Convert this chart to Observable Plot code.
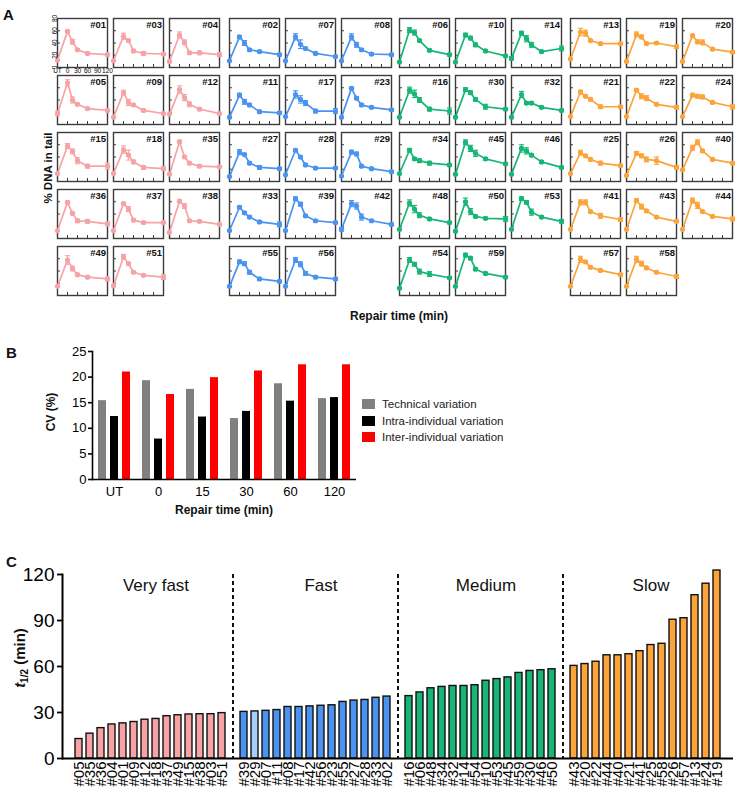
<!DOCTYPE html>
<html><head><meta charset="utf-8">
<script src="https://cdn.jsdelivr.net/npm/d3@7"></script>
<script src="https://cdn.jsdelivr.net/npm/@observablehq/plot@0.6"></script>
<style>
body{margin:0;background:#fff;font-family:"Liberation Sans",Arial,sans-serif;}
#fig{position:relative;width:739px;height:795px;overflow:hidden;background:#fff;}
.abs{position:absolute;}
</style></head><body><div id="fig"></div>
<script>
// ---------- Panel A data: % DNA in tail (mean) and error at each time point ----------
const timepoints = ["UT", 0, 15, 30, 60, 120];
const aTicksX = [0, 30, 60, 90];
const aTicksY = [20, 40, 60];

const aVeryFastIds = ["#01","#03","#04","#05","#09","#12","#15","#18","#35","#36","#37","#38","#49","#51"];
const aVeryFastDNA = [
  [12,59,42,29,23,21],[11,51,44,27,23,22],[10,53,41,24,24,21],
  [18,68,40,33,26,23],[12,52,36,32,23,18],[17,57,44,33,25,18],
  [13,58,49,34,25,25],[13,52,43,32,23,21],[12,65,40,30,25,24],
  [13,59,41,29,28,24],[13,57,48,30,26,26],[10,61,53,29,28,23],
  [15,58,44,34,30,27],[16,63,52,38,33,30]
];
const aVeryFastErr = [
  [0,2,4,2,2,2],[0,5,2,2,3,2],[0,5,4,2,3,3],
  [4,5,5,2,2,2],[0,4,5,2,2,2],[0,6,5,4,2,2],
  [0,4,4,5,3,5],[0,6,8,3,3,3],[0,2,2,2,2,2],
  [0,2,2,3,3,3],[0,2,4,2,2,2],[0,2,4,2,2,2],
  [0,7,4,2,2,3],[0,4,2,2,2,4]
];
const aFastIds = ["#02","#07","#08","#11","#17","#23","#27","#28","#29","#33","#39","#42","#55","#56"];
const aFastDNA = [
  [11,50,40,29,26,21],[11,50,38,31,23,18],[11,50,37,29,22,21],
  [12,48,37,32,21,19],[13,49,41,35,22,22],[12,59,43,32,28,24],
  [8,48,44,30,23,21],[11,51,40,27,22,22],[9,48,45,25,21,16],
  [13,51,42,35,27,23],[13,65,56,37,29,26],[15,57,53,35,29,23],
  [15,55,52,38,27,23],[15,58,51,36,30,27]
];
const aFastErr = [
  [0,2,4,2,2,2],[0,5,7,2,2,2],[0,5,4,2,2,2],
  [0,3,4,2,2,2],[0,6,6,4,3,4],[0,2,2,2,2,2],
  [0,4,2,2,3,2],[0,2,2,2,2,2],[0,3,3,2,2,2],
  [0,2,2,2,2,4],[0,3,3,2,2,2],[3,5,5,5,2,2],
  [0,3,3,3,2,2],[0,4,4,3,2,2]
];
const aMediumIds = ["#06","#10","#14","#16","#30","#32","#34","#45","#46","#48","#50","#53","#54","#59"];
const aMediumDNA = [
  [9,61,57,44,28,21],[9,53,48,37,27,19],[15,56,47,37,26,31],
  [12,56,50,40,25,22],[12,57,52,41,29,25],[12,49,35,35,28,23],
  [13,51,37,34,30,27],[12,64,54,46,37,29],[12,54,50,43,32,23],
  [15,58,48,38,32,26],[12,60,44,36,33,32],[15,65,59,43,35,28],
  [12,58,51,39,35,29],[15,66,61,43,36,30]
];
const aMediumErr = [
  [0,4,4,2,2,2],[0,3,3,3,2,2],[3,3,5,4,2,4],
  [0,5,6,4,3,5],[0,3,3,3,4,2],[0,5,2,2,2,2],
  [0,3,2,3,3,2],[0,4,5,5,2,2],[0,6,5,2,2,2],
  [0,5,6,4,2,2],[0,6,5,2,2,4],[0,3,3,5,2,3],
  [0,4,3,4,4,2],[0,3,2,2,2,2]
];
const aSlowIds = ["#13","#19","#20","#21","#22","#24","#25","#26","#40","#41","#43","#44","#57","#58"];
const aSlowDNA = [
  [14,58,56,44,39,39],[10,54,50,39,40,34],[10,52,42,41,30,25],
  [13,53,46,41,29,29],[13,56,46,43,33,28],[13,48,46,45,36,29],
  [13,47,42,36,30,26],[10,46,42,36,34,23],[19,55,64,50,36,30],
  [15,59,59,44,37,31],[15,62,52,45,35,28],[15,62,54,44,36,32],
  [15,59,55,46,41,34],[15,59,52,45,38,31]
];
const aSlowErr = [
  [0,6,5,2,2,2],[0,4,3,2,2,3],[0,2,3,4,2,2],
  [0,3,2,2,3,2],[0,2,4,4,2,3],[0,3,3,3,2,4],
  [0,4,2,2,3,2],[0,3,3,4,6,3],[0,4,4,2,2,2],
  [0,4,4,2,4,3],[0,3,4,2,2,2],[0,4,5,2,2,3],
  [0,5,2,2,2,2],[0,5,4,2,2,3]
];

// ---------- Panel B data: CV (%) ----------
const bTimes = ["UT", "0", "15", "30", "60", "120"];
const bSeries = ["Technical variation", "Intra-individual variation", "Inter-individual variation"];
const bTechnical = [15.4, 19.3, 17.6, 11.9, 18.7, 15.8];
const bIntra = [12.3, 7.9, 12.2, 13.3, 15.3, 16.0];
const bInter = [21.0, 16.6, 19.9, 21.2, 22.4, 22.4];
const bTicksY = [0, 5, 10, 15, 20, 25];

// ---------- Panel C data: t1/2 (min) ----------
const groupNames = ["Very fast", "Fast", "Medium", "Slow"];
const cVeryFastIds = ["#05","#35","#36","#04","#01","#09","#12","#18","#37","#49","#15","#38","#03","#51"];
const cVeryFastT = [12.7,16.2,19.8,22.2,22.9,23.8,25.3,25.8,27.6,28.2,28.7,28.9,28.9,29.6];
const cFastIds = ["#39","#29","#07","#11","#08","#17","#42","#56","#23","#55","#27","#28","#33","#02"];
const cFastT = [30.4,30.7,31.1,31.6,33.6,33.6,34.0,34.4,34.7,36.9,37.8,38.2,39.6,40.4];
const cMediumIds = ["#16","#06","#48","#34","#32","#14","#54","#10","#53","#45","#59","#30","#46","#50"];
const cMediumT = [40.7,43.1,45.8,46.7,47.3,47.3,47.8,50.7,51.8,52.9,55.8,57.1,57.6,58.2];
const cSlowIds = ["#43","#20","#22","#44","#40","#21","#41","#25","#58","#26","#57","#13","#24","#19"];
const cSlowT = [60.4,61.6,63.1,67.3,67.3,68.0,70.0,74.0,74.8,90.5,91.5,106.5,114.0,122.6];
const cHighlight = ["#29"];
const cTicksY = [0, 30, 60, 90, 120];

// ---------- styling ----------
const FONT = "Liberation Sans, Arial, Helvetica, sans-serif";
const groupColors = ["#f7a3a6", "#4a93f0", "#17b676", "#fca43c"];
const highlightColor = "#a9cdf9";
const bColors = ["#808080", "#000000", "#ff0000"];

const fig = document.getElementById("fig");
function place(node, left, top) {
  node.classList.add("abs");
  node.style.left = left + "px";
  node.style.top = top + "px";
  fig.appendChild(node);
}
const baseStyle = {background: "transparent", fontFamily: FONT, overflow: "visible", color: "#000"};
const capSymbol = {draw(ctx) { ctx.moveTo(-2.6, 0); ctx.lineTo(2.6, 0); }};

// ---------- Panel A ----------
const aGroups = [
  {ids: aVeryFastIds, vals: aVeryFastDNA, errs: aVeryFastErr},
  {ids: aFastIds, vals: aFastDNA, errs: aFastErr},
  {ids: aMediumIds, vals: aMediumDNA, errs: aMediumErr},
  {ids: aSlowIds, vals: aSlowDNA, errs: aSlowErr}
];
const groupLeft = [57, 229, 399, 570];
const colStep = 56, rowTop = 18, rowStep = 57.1;
const PW = 50, PH = 49, ML = 10, MR = 3, MT = 3, MB = 9;

function smallPanel(id, values, errs, color, showLabels) {
  const data = timepoints.map((t, i) => ({t: t === "UT" ? -30 : t, v: values[i], e: errs[i]}));
  const eData = data.filter(d => d.e > 0);
  const marks = [
    Plot.frame({stroke: "#3c3c3c", strokeWidth: 1.4}),
    Plot.axisX({ticks: aTicksX, tickSize: -3, tickFormat: () => "", stroke: "#3c3c3c", label: null}),
    Plot.axisY({ticks: aTicksY, tickSize: -3, tickFormat: () => "", stroke: "#3c3c3c", label: null}),
    Plot.ruleX(eData, {x: "t", y1: d => d.v - d.e, y2: d => d.v + d.e, stroke: color, strokeWidth: 1.1}),
    Plot.dot(eData, {x: "t", y: d => d.v + d.e, symbol: capSymbol, stroke: color, fill: "none", strokeWidth: 1.1}),
    Plot.dot(eData, {x: "t", y: d => d.v - d.e, symbol: capSymbol, stroke: color, fill: "none", strokeWidth: 1.1}),
    Plot.line(data, {x: "t", y: "v", stroke: color, strokeWidth: 1.7}),
    Plot.dot(data, {x: "t", y: "v", r: 2.6, fill: color}),
    Plot.text([id], {frameAnchor: "top-right", dx: -1.5, dy: 2.5, fontWeight: "bold", fontSize: 9.5, fill: "#111"})
  ];
  if (showLabels) {
    marks.push(Plot.axisX({ticks: [-30, ...aTicksX, 120], tickSize: 0, tickPadding: 1, fontSize: 6.5,
      tickFormat: d => d === -30 ? "UT" : String(d), label: null}));
    marks.push(Plot.axisY({ticks: [0, ...aTicksY, 80], tickSize: 0, tickPadding: 1, fontSize: 6.5,
      tickRotate: -90, label: null}));
  }
  return Plot.plot({
    width: PW + ML + MR, height: PH + MT + MB,
    marginLeft: ML, marginRight: MR, marginTop: MT, marginBottom: MB,
    x: {domain: [-30, 120]}, y: {domain: [0, 80]},
    style: baseStyle, marks
  });
}

aGroups.forEach((g, gi) => {
  g.ids.forEach((id, k) => {
    const row = Math.floor(k / 3), col = k % 3;
    const svg = smallPanel(id, g.vals[k], g.errs[k], groupColors[gi], gi === 0 && k === 0);
    place(svg, groupLeft[gi] + col * colStep - ML, Math.round(rowTop + row * rowStep) - MT);
  });
});

// ---------- Panel B ----------
const bData = bTimes.flatMap((t, i) => [
  {time: t, series: bSeries[0], cv: bTechnical[i]},
  {time: t, series: bSeries[1], cv: bIntra[i]},
  {time: t, series: bSeries[2], cv: bInter[i]}
]);
const plotB = Plot.plot({
  width: 362, height: 174, marginLeft: 90, marginRight: 4, marginTop: 21, marginBottom: 25,
  fx: {domain: bTimes, padding: 0, label: null},
  x: {domain: bSeries, paddingInner: 0.35, paddingOuter: 0.49, axis: null},
  y: {domain: [0, 25], label: null},
  color: {domain: bSeries, range: bColors},
  style: baseStyle,
  marks: [
    Plot.barY(bData, {fx: "time", x: "series", y: "cv", fill: "series"}),
    Plot.ruleY([0], {strokeWidth: 1.6}),
    Plot.frame({anchor: "left", facetAnchor: "left", strokeWidth: 1.6}),
    Plot.axisY({ticks: bTicksY, tickSize: 4, tickPadding: 2, fontSize: 13, strokeWidth: 1.6, label: null}),
    Plot.axisFx({anchor: "bottom", tickSize: 0, tickPadding: 7, fontSize: 13, label: null})
  ]
});
place(plotB, 0, 330);

// legend for B
const legend = document.createElement("div");
legend.style.fontFamily = FONT;
legend.style.fontSize = "11.5px";
legend.style.color = "#222";
bSeries.forEach((s, i) => {
  const row = document.createElement("div");
  row.style.display = "flex";
  row.style.alignItems = "center";
  row.style.height = "16.5px";
  const sw = document.createElement("span");
  sw.style.display = "inline-block";
  sw.style.width = "13px"; sw.style.height = "10px";
  sw.style.background = bColors[i];
  sw.style.marginRight = "7px";
  row.appendChild(sw);
  row.appendChild(document.createTextNode(s));
  legend.appendChild(row);
});
place(legend, 362, 396);

// ---------- Panel C ----------
const cGroups = [
  {name: groupNames[0], ids: cVeryFastIds, vals: cVeryFastT},
  {name: groupNames[1], ids: cFastIds, vals: cFastT},
  {name: groupNames[2], ids: cMediumIds, vals: cMediumT},
  {name: groupNames[3], ids: cSlowIds, vals: cSlowT}
];
const gapKeys = ["gap1", "gap2", "gap3"];
const xDomainC = cGroups.flatMap((g, i) => i < 3 ? [...g.ids, gapKeys[i]] : g.ids);
const cData = cGroups.flatMap(g => g.ids.map((id, k) => ({
  id, t: g.vals[k], cls: cHighlight.includes(id) ? "highlight" : g.name
})));
const labelKeys = cGroups.map(g => g.ids[7]);
const plotC = Plot.plot({
  width: 739, height: 245, marginLeft: 62, marginRight: 6, marginTop: 24, marginBottom: 37,
  x: {domain: xDomainC, paddingInner: 0.34, paddingOuter: 0.1},
  y: {domain: [0, 120]},
  color: {domain: [...groupNames, "highlight"], range: [...groupColors, highlightColor]},
  style: baseStyle,
  marks: [
    Plot.barY(cData, {x: "id", y: "t", fill: "cls", stroke: "#111", strokeWidth: 1.4}),
    Plot.ruleX(gapKeys, {stroke: "#111", strokeWidth: 2, strokeDasharray: "4,3"}),
    Plot.ruleY([0], {strokeWidth: 2}),
    Plot.frame({anchor: "left", strokeWidth: 2}),
    Plot.axisY({ticks: cTicksY, tickSize: 5, tickPadding: 3, fontSize: 19, strokeWidth: 1.8, label: null}),
    Plot.axisX({tickRotate: -90, tickSize: 0, tickPadding: 3, fontSize: 15,
      tickFormat: d => gapKeys.includes(d) ? "" : d, label: null}),
    Plot.text(groupNames, {x: (d, i) => labelKeys[i], text: d => d, frameAnchor: "top", lineAnchor: "middle", dy: 11, fontSize: 17, fill: "#111"})
  ]
});
place(plotC, 0, 550);

// ---------- overlay: panel letters and axis titles ----------
const ov = d3.create("svg").attr("width", 739).attr("height", 795)
  .style("font-family", FONT).style("pointer-events", "none");
function label(txt, x, y, opts = {}) {
  const t = ov.append("text").attr("x", x).attr("y", y)
    .attr("font-size", opts.size || 12).attr("font-weight", opts.weight || "bold")
    .attr("text-anchor", opts.anchor || "start").attr("fill", "#111").text(txt);
  if (opts.rotate) t.attr("transform", `rotate(-90 ${x} ${y})`);
  return t;
}
label("A", 3, 20, {size: 15});
label("B", 6, 358, {size: 15});
label("C", 6, 567, {size: 15});
label("% DNA in tail", 52, 168, {size: 11.5, anchor: "middle", rotate: true});
label("Repair time (min)", 399, 320, {size: 12, anchor: "middle"});
label("CV (%)", 55, 412, {size: 12, anchor: "middle", rotate: true});
label("Repair time (min)", 224, 514, {size: 12, anchor: "middle"});
const tl = ov.append("text").attr("x", 25).attr("y", 658).attr("font-size", 15).attr("font-weight", "bold")
  .attr("text-anchor", "middle").attr("fill", "#111").attr("transform", "rotate(-90 25 658)");
tl.append("tspan").attr("font-style", "italic").text("t");
tl.append("tspan").attr("font-size", 10).attr("dy", 3).text("1/2");
tl.append("tspan").attr("dy", -3).text(" (min)");
place(ov.node(), 0, 0);
</script></body></html>
